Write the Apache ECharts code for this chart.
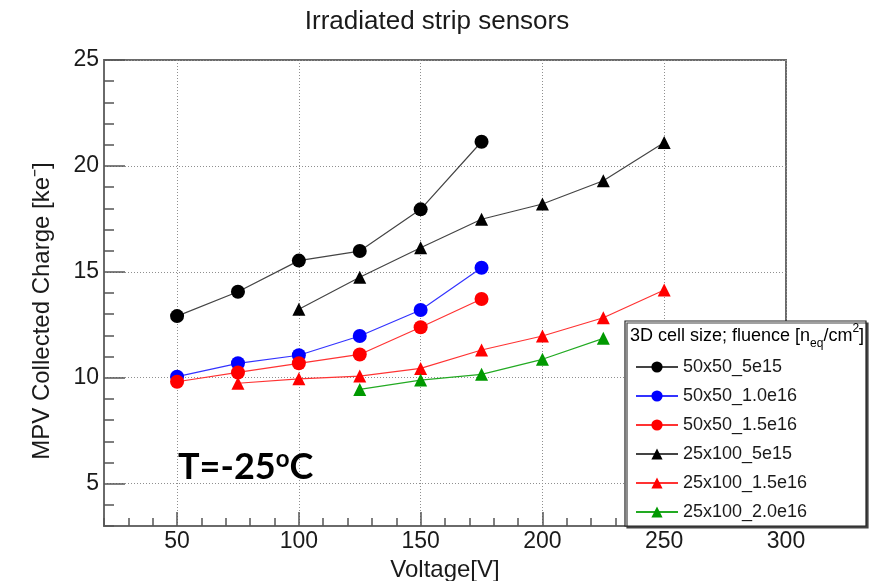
<!DOCTYPE html>
<html>
<head>
<meta charset="utf-8">
<script src="https://cdn.jsdelivr.net/npm/echarts@6/dist/echarts.min.js"></script>
<style>
  html, body { margin: 0; padding: 0; background: #ffffff; }
  #chart { width: 872px; height: 581px; }
</style>
</head>
<body>
<div id="chart"></div>
<script>
// Bias voltage [V] for each sensor series
const voltage50x50 = [50, 75, 100, 125, 150, 175];
const voltage25x100_5e15 = [100, 125, 150, 175, 200, 225, 250];
const voltage25x100_15e16 = [75, 100, 125, 150, 175, 200, 225, 250];
const voltage25x100_20e16 = [125, 150, 175, 200, 225];

// MPV collected charge [ke-]
const charge50x50_5e15 = [12.91, 14.06, 15.53, 15.98, 17.95, 21.14];
const charge50x50_10e16 = [10.05, 10.68, 11.06, 11.97, 13.20, 15.19];
const charge50x50_15e16 = [9.81, 10.25, 10.68, 11.10, 12.38, 13.72];
const charge25x100_5e15 = [13.23, 14.74, 16.14, 17.48, 18.20, 19.30, 21.10];
const charge25x100_15e16 = [9.74, 9.95, 10.08, 10.44, 11.31, 11.97, 12.83, 14.14];
const charge25x100_20e16 = [9.45, 9.89, 10.16, 10.87, 11.86];

// Series names shown in the legend
const seriesNames = ['50x50_5e15', '50x50_1.0e16', '50x50_1.5e16', '25x100_5e15', '25x100_1.5e16', '25x100_2.0e16'];

// Axis ticks
const xMajorTicks = [50, 100, 150, 200, 250, 300];
const yMajorTicks = [5, 10, 15, 20, 25];

const FONT = '"Liberation Sans", Arial, Helvetica, sans-serif';

function pairs(xs, ys) {
  return xs.map((x, i) => [x, ys[i]]);
}

function makeSeries(name, xs, ys, color, lineColor, symbol, size) {
  return {
    name: name,
    type: 'line',
    xAxisIndex: 0,
    yAxisIndex: 0,
    data: pairs(xs, ys),
    symbol: symbol,
    symbolSize: size,
    showSymbol: true,
    itemStyle: { color: color },
    lineStyle: { color: lineColor, width: 1.2 },
    z: 5
  };
}

const chart = echarts.init(document.getElementById('chart'), null, { renderer: 'canvas' });

chart.setOption({
  animation: false,
  backgroundColor: '#ffffff',
  title: {
    text: 'Irradiated strip sensors',
    left: 432,
    top: 4,
    textAlign: 'center',
    textStyle: { fontFamily: FONT, fontSize: 26, fontWeight: 'normal', color: '#1a1a1a' }
  },
  grid: {
    left: 104, top: 60, right: 86, bottom: 55,
    outerBoundsMode: 'none',
    containLabel: false,
    show: true, borderColor: '#6a6a6a', borderWidth: 2, backgroundColor: 'transparent'
  },
  legend: {
    orient: 'vertical',
    left: 635,
    top: 358,
    padding: 0,
    itemWidth: 42,
    itemHeight: 14,
    itemGap: 11,
    backgroundColor: 'transparent',
    textStyle: { fontFamily: FONT, fontSize: 18, color: '#1a1a1a', lineHeight: 18 },
    data: seriesNames,
    z: 20
  },
  xAxis: [
    {
      type: 'value', min: 20, max: 300,
      name: 'Voltage[V]', nameLocation: 'middle', nameGap: 22,
      nameTextStyle: { fontFamily: FONT, fontSize: 24, color: '#1a1a1a' },
      axisLine: { show: true, lineStyle: { color: '#6a6a6a', width: 2 } },
      axisTick: { show: true, inside: true, length: 14, customValues: xMajorTicks, lineStyle: { color: '#555', width: 1.5 } },
      axisLabel: { show: true, customValues: xMajorTicks, margin: 4, fontFamily: FONT, fontSize: 23, color: '#1a1a1a' },
      splitLine: { show: true, lineStyle: { color: '#8f8f8f', type: [1, 2], width: 1 } }
    },
    {
      // minor ticks every 10 V
      type: 'value', min: 20, max: 300, interval: 10, position: 'bottom',
      axisLine: { show: false },
      axisTick: { show: true, inside: true, length: 8, lineStyle: { color: '#555', width: 1.5 } },
      axisLabel: { show: false },
      splitLine: { show: false }
    }
  ],
  yAxis: [
    {
      type: 'value', min: 3, max: 25,
      name: 'MPV Collected Charge [ke\u207B]', nameLocation: 'middle', nameGap: 50,
      nameTextStyle: { fontFamily: FONT, fontSize: 24, color: '#1a1a1a', padding: [0, 36, 0, 0] },
      axisLine: { show: true, lineStyle: { color: '#6a6a6a', width: 2 } },
      axisTick: { show: true, inside: true, length: 21, customValues: yMajorTicks, lineStyle: { color: '#555', width: 1.5 } },
      axisLabel: { show: true, customValues: yMajorTicks, margin: 5, fontFamily: FONT, fontSize: 23, color: '#1a1a1a' },
      splitLine: { show: true, lineStyle: { color: '#8f8f8f', type: [1, 2], width: 1 } }
    },
    {
      // minor ticks every 1 ke-
      type: 'value', min: 3, max: 25, interval: 1, position: 'left',
      axisLine: { show: false },
      axisTick: { show: true, inside: true, length: 10, lineStyle: { color: '#555', width: 1.5 } },
      axisLabel: { show: false },
      splitLine: { show: false }
    }
  ],
  graphic: [
    {
      // legend frame with drop shadow
      type: 'rect',
      shape: { x: 625, y: 321, width: 241, height: 205 },
      style: { fill: '#ffffff', stroke: '#222', lineWidth: 1.2, shadowColor: '#444', shadowOffsetX: 2, shadowOffsetY: 2, shadowBlur: 0 },
      z: 10
    },
    {
      type: 'text',
      x: 630, y: 323,
      style: {
        text: '{m|3D cell size; fluence [n}{s|eq}{m|/cm}{p|2}{m|]}',
        rich: {
          m: { fontFamily: FONT, fontSize: 18, color: '#1a1a1a', lineHeight: 27 },
          s: { fontFamily: FONT, fontSize: 12, color: '#1a1a1a', lineHeight: 12, verticalAlign: 'bottom' },
          p: { fontFamily: FONT, fontSize: 12, color: '#1a1a1a', lineHeight: 12, verticalAlign: 'top' }
        }
      },
      z: 30
    },
    {
      type: 'text',
      x: 178, y: 447,
      style: {
        text: '{t|T=-25}{o|o}{t|C}',
        rich: {
          t: { fontFamily: 'Lato, "Open Sans", sans-serif', fontSize: 36, fontWeight: 'bold', color: '#000', lineHeight: 40 },
          o: { fontFamily: 'Lato, "Open Sans", sans-serif', fontSize: 24, fontWeight: 'bold', color: '#000', lineHeight: 24, verticalAlign: 'top' }
        }
      },
      z: 30
    }
  ],
  series: [
    makeSeries(seriesNames[0], voltage50x50, charge50x50_5e15, '#000000', '#444444', 'circle', 14),
    makeSeries(seriesNames[1], voltage50x50, charge50x50_10e16, '#0000ff', '#3333ff', 'circle', 14),
    makeSeries(seriesNames[2], voltage50x50, charge50x50_15e16, '#ff0000', '#ff3333', 'circle', 14),
    makeSeries(seriesNames[3], voltage25x100_5e15, charge25x100_5e15, '#000000', '#444444', 'triangle', 13),
    makeSeries(seriesNames[4], voltage25x100_15e16, charge25x100_15e16, '#ff0000', '#ff3333', 'triangle', 13),
    makeSeries(seriesNames[5], voltage25x100_20e16, charge25x100_20e16, '#009900', '#22aa22', 'triangle', 13)
  ]
});
</script>
</body>
</html>
